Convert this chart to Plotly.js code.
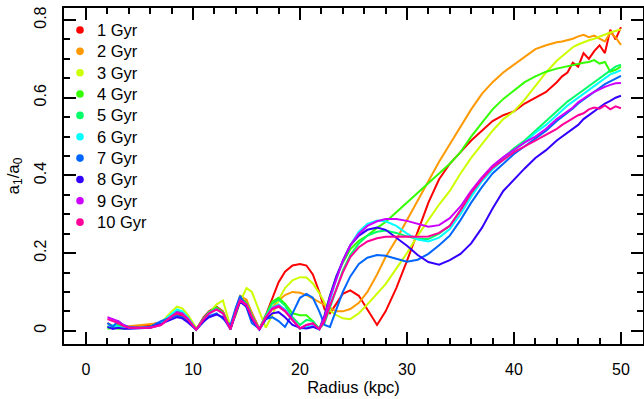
<!DOCTYPE html>
<html><head><meta charset="utf-8">
<script src="https://cdn.plot.ly/plotly-3.0.1.min.js"></script>
<style>html,body{margin:0;padding:0;background:#fff;} #chart{width:644px;height:399px;}</style>
</head><body><div id="chart"></div>
<script>
const radius = [2, 2.5, 3, 3.5, 4, 5, 6, 7, 8, 8.5, 9, 9.5, 10.3, 11, 11.5, 12.2, 12.8, 13.5, 14, 14.4, 15, 15.5, 16.2, 16.8, 17.4, 18, 18.6, 19.3, 20, 20.6, 21.2, 21.8,
  22.3, 22.8, 23.4, 24, 24.7, 25.5, 26.3, 27.2, 28,
  29, 30, 31, 32, 33, 34, 35, 36, 37, 38, 39, 40, 41, 42, 43, 44,
  44.5, 45, 45.5, 46, 46.5, 47, 47.5, 48, 48.5, 49, 49.5, 50];

const labels = ['1 Gyr', '2 Gyr', '3 Gyr', '4 Gyr', '5 Gyr', '6 Gyr', '7 Gyr', '8 Gyr', '9 Gyr', '10 Gyr'];
const colors = ['#FF0000', '#FF9900', '#CCFF00', '#33FF00', '#00FF66', '#00FFFF', '#0066FF', '#3300FF', '#CC00FF', '#FF0099'];

const gyr1 = [0.02, 0.012, 0.015, 0.01, 0.01, 0.012, 0.015, 0.022, 0.035, 0.042, 0.038, 0.028, 0.003, 0.035, 0.05, 0.062, 0.05, 0.005, 0.05, 0.08, 0.075, 0.045, 0.005, 0.04, 0.085, 0.125, 0.152, 0.168, 0.172, 0.168, 0.145, 0.1,
  0.055, 0.045, 0.07, 0.095, 0.104, 0.09, 0.055, 0.015, 0.05,
  0.11, 0.18, 0.255, 0.33, 0.39, 0.43, 0.46, 0.49, 0.515, 0.54, 0.555, 0.565, 0.585, 0.6, 0.615, 0.64,
  0.655, 0.665, 0.69, 0.68, 0.715, 0.7, 0.72, 0.735, 0.715, 0.775, 0.75, 0.782];
const gyr2 = [0.01, 0.008, 0.01, 0.012, 0.012, 0.015, 0.018, 0.02, 0.035, 0.045, 0.042, 0.03, 0.003, 0.03, 0.045, 0.058, 0.048, 0.005, 0.055, 0.09, 0.08, 0.045, 0.005, 0.035, 0.06, 0.078, 0.092, 0.1, 0.098, 0.092, 0.083, 0.074,
  0.065, 0.057, 0.05, 0.05, 0.056, 0.072, 0.1, 0.145, 0.19,
  0.235, 0.285, 0.335, 0.385, 0.435, 0.48, 0.525, 0.57, 0.61, 0.64, 0.665, 0.685, 0.705, 0.725, 0.735, 0.743,
  0.745, 0.748, 0.752, 0.758, 0.762, 0.756, 0.76, 0.752, 0.745, 0.768, 0.755, 0.736];
const gyr3 = [0.01, 0.012, 0.01, 0.01, 0.008, 0.008, 0.01, 0.02, 0.05, 0.062, 0.058, 0.042, 0.008, 0.025, 0.045, 0.068, 0.078, 0.01, 0.04, 0.075, 0.11, 0.1, 0.05, 0.008, 0.04, 0.08, 0.11, 0.13, 0.138, 0.137, 0.122, 0.097,
  0.072, 0.052, 0.04, 0.032, 0.03, 0.045, 0.068, 0.095, 0.12,
  0.16, 0.2, 0.245, 0.285, 0.325, 0.36, 0.405, 0.445, 0.48, 0.515, 0.545, 0.565, 0.595, 0.63, 0.665, 0.695,
  0.707, 0.718, 0.73, 0.737, 0.743, 0.748, 0.752, 0.758, 0.762, 0.768, 0.772, 0.776];
const gyr4 = [0.005, 0.008, 0.005, 0.006, 0.006, 0.008, 0.01, 0.02, 0.04, 0.05, 0.045, 0.032, 0.003, 0.032, 0.048, 0.06, 0.048, 0.005, 0.055, 0.085, 0.072, 0.04, 0.003, 0.04, 0.075, 0.085, 0.07, 0.045, 0.04, 0.04, 0.025, 0.005,
  0.04, 0.09, 0.14, 0.175, 0.21, 0.232, 0.245, 0.265, 0.28,
  0.305, 0.33, 0.355, 0.38, 0.405, 0.43, 0.46, 0.5, 0.535, 0.57, 0.597, 0.618, 0.64, 0.655, 0.667, 0.675,
  0.678, 0.682, 0.685, 0.688, 0.69, 0.692, 0.697, 0.688, 0.692, 0.667, 0.672, 0.68];
const gyr5 = [0.012, 0.01, 0.015, 0.008, 0.008, 0.008, 0.01, 0.02, 0.04, 0.05, 0.046, 0.033, 0.003, 0.032, 0.048, 0.058, 0.046, 0.004, 0.052, 0.082, 0.068, 0.038, 0.003, 0.04, 0.07, 0.08, 0.065, 0.035, 0.015, 0.028, 0.025, 0.005,
  0.02, 0.06, 0.11, 0.155, 0.195, 0.225, 0.245, 0.255, 0.258,
  0.252, 0.243, 0.236, 0.236, 0.25, 0.27, 0.31, 0.35, 0.39, 0.42, 0.445, 0.47, 0.49, 0.515, 0.54, 0.565,
  0.578, 0.59, 0.6, 0.61, 0.62, 0.63, 0.64, 0.65, 0.66, 0.672, 0.68, 0.685];
const gyr6 = [0.008, 0.015, 0.01, 0.008, 0.006, 0.007, 0.009, 0.02, 0.045, 0.055, 0.05, 0.035, 0.003, 0.03, 0.045, 0.055, 0.044, 0.004, 0.05, 0.08, 0.066, 0.035, 0.003, 0.035, 0.06, 0.068, 0.055, 0.028, 0.005, 0.01, 0.012, 0.003,
  0.03, 0.08, 0.135, 0.18, 0.22, 0.255, 0.275, 0.284, 0.282,
  0.27, 0.25, 0.235, 0.23, 0.24, 0.262, 0.3, 0.345, 0.385, 0.415, 0.44, 0.465, 0.485, 0.51, 0.53, 0.555,
  0.568, 0.58, 0.59, 0.6, 0.61, 0.62, 0.63, 0.64, 0.65, 0.66, 0.665, 0.671];
const gyr7 = [0.02, 0.01, 0.025, 0.015, 0.01, 0.008, 0.01, 0.025, 0.035, 0.038, 0.035, 0.025, 0.003, 0.025, 0.038, 0.045, 0.03, 0.015, 0.06, 0.09, 0.06, 0.02, 0.005, 0.03, 0.035, 0.025, 0.01, 0.045, 0.085, 0.095, 0.085, 0.05,
  0.015, 0.01, 0.055, 0.1, 0.14, 0.172, 0.188, 0.195, 0.193,
  0.185, 0.178, 0.183, 0.198, 0.22, 0.245, 0.285, 0.33, 0.37, 0.405, 0.43, 0.455, 0.475, 0.495, 0.515, 0.54,
  0.55, 0.56, 0.572, 0.585, 0.595, 0.605, 0.615, 0.625, 0.635, 0.642, 0.65, 0.656];
const gyr8 = [0.01, 0.005, 0.008, 0.005, 0.005, 0.006, 0.008, 0.018, 0.03, 0.035, 0.032, 0.022, 0.003, 0.025, 0.035, 0.042, 0.035, 0.004, 0.045, 0.075, 0.062, 0.03, 0.003, 0.03, 0.045, 0.048, 0.035, 0.015, 0.008, 0.006, 0.01, 0.004,
  0.04, 0.09, 0.14, 0.18, 0.22, 0.245, 0.26, 0.266, 0.26,
  0.24, 0.219, 0.195, 0.177, 0.17, 0.182, 0.198, 0.225, 0.265, 0.315, 0.36, 0.39, 0.418, 0.445, 0.465, 0.49,
  0.5, 0.51, 0.52, 0.53, 0.545, 0.555, 0.565, 0.575, 0.585, 0.592, 0.6, 0.605];
const gyr9 = [0.035, 0.03, 0.025, 0.015, 0.008, 0.008, 0.008, 0.015, 0.038, 0.048, 0.045, 0.032, 0.003, 0.03, 0.045, 0.055, 0.045, 0.004, 0.05, 0.08, 0.068, 0.036, 0.003, 0.035, 0.058, 0.065, 0.052, 0.028, 0.006, 0.015, 0.018, 0.004,
  0.035, 0.085, 0.135, 0.18, 0.22, 0.25, 0.27, 0.282, 0.288,
  0.288, 0.283, 0.275, 0.268, 0.272, 0.29, 0.32, 0.36, 0.395, 0.425, 0.447, 0.467, 0.485, 0.5, 0.52, 0.545,
  0.555, 0.565, 0.575, 0.588, 0.598, 0.607, 0.615, 0.622, 0.628, 0.633, 0.637, 0.638];
const gyr10 = [0.03, 0.025, 0.02, 0.012, 0.008, 0.008, 0.008, 0.015, 0.038, 0.045, 0.042, 0.03, 0.003, 0.03, 0.045, 0.055, 0.045, 0.004, 0.05, 0.078, 0.066, 0.035, 0.003, 0.035, 0.055, 0.062, 0.05, 0.027, 0.006, 0.015, 0.02, 0.004,
  0.025, 0.065, 0.11, 0.15, 0.19, 0.215, 0.23, 0.238, 0.242,
  0.243, 0.243, 0.242, 0.243, 0.252, 0.27, 0.31, 0.355, 0.39, 0.42, 0.44, 0.46, 0.475, 0.49, 0.505, 0.52,
  0.53, 0.538, 0.545, 0.555, 0.56, 0.57, 0.575, 0.572, 0.58, 0.57, 0.578, 0.573];

const series = [gyr1, gyr2, gyr3, gyr4, gyr5, gyr6, gyr7, gyr8, gyr9, gyr10];

const FONT = 'Liberation Sans, Arial, sans-serif';
const traces = series.map((ys, i) => ({
  x: radius, y: ys, type: 'scatter', mode: 'lines', name: labels[i],
  line: {color: colors[i], width: 2}, showlegend: false, hoverinfo: 'skip'
}));

// Legend drawn as paper-positioned dots and labels (plot area: 64..643 px wide, 8..344 px tall)
const PL = 64, PW = 579, PT = 8, PH = 336;
const legendShapes = [];
const legendNotes = [];
labels.forEach((l, i) => {
  const py = 30 + 21.35 * i;
  const yp = (PT + PH - py) / PH;
  legendShapes.push({
    type: 'circle', xref: 'paper', yref: 'paper',
    xsizemode: 'pixel', ysizemode: 'pixel',
    xanchor: (80 - PL) / PW, yanchor: yp,
    x0: -3.8, x1: 3.8, y0: -3.8, y1: 3.8,
    fillcolor: colors[i], line: {width: 0}
  });
  legendNotes.push({
    xref: 'paper', yref: 'paper', x: (95 - PL) / PW, y: yp,
    xanchor: 'left', yanchor: 'middle', showarrow: false,
    text: l, font: {family: FONT, size: 16.5, color: '#000'}
  });
});

const axisCommon = {
  showline: true, linecolor: '#000', linewidth: 2, mirror: 'ticks',
  ticks: 'inside', ticklen: 12, tickwidth: 2, tickcolor: '#000',
  showgrid: false, zeroline: false,
  tickfont: {family: FONT, size: 16, color: '#000'}
};

const layout = {
  width: 644, height: 399,
  margin: {l: PL, r: 644 - PL - PW, t: PT, b: 399 - PT - PH, pad: 0},
  paper_bgcolor: '#fff', plot_bgcolor: '#fff',
  font: {family: FONT, color: '#000'},
  xaxis: Object.assign({}, axisCommon, {
    range: [-2.06, 52.06], dtick: 10, tick0: 0,
    minor: {dtick: 2, ticklen: 6, tickwidth: 2, ticks: 'inside', tickcolor: '#000'},
    ticklabelstandoff: 10,
    title: {text: 'Radius (kpc)', font: {family: FONT, size: 16.5, color: '#000'}, standoff: 4}
  }),
  yaxis: Object.assign({}, axisCommon, {
    range: [-0.034, 0.831], dtick: 0.2, tick0: 0, tickangle: -90,
    minor: {dtick: 0.05, ticklen: 6, tickwidth: 2, ticks: 'inside', tickcolor: '#000'},
    ticklabelstandoff: 10,
    title: {text: 'a<sub>1</sub>/a<sub>0</sub>', font: {family: FONT, size: 17, color: '#000'}, standoff: 8}
  }),
  shapes: legendShapes,
  annotations: legendNotes,
  showlegend: false
};

Plotly.newPlot('chart', traces, layout, {displayModeBar: false, staticPlot: true});
</script>
</body></html>
